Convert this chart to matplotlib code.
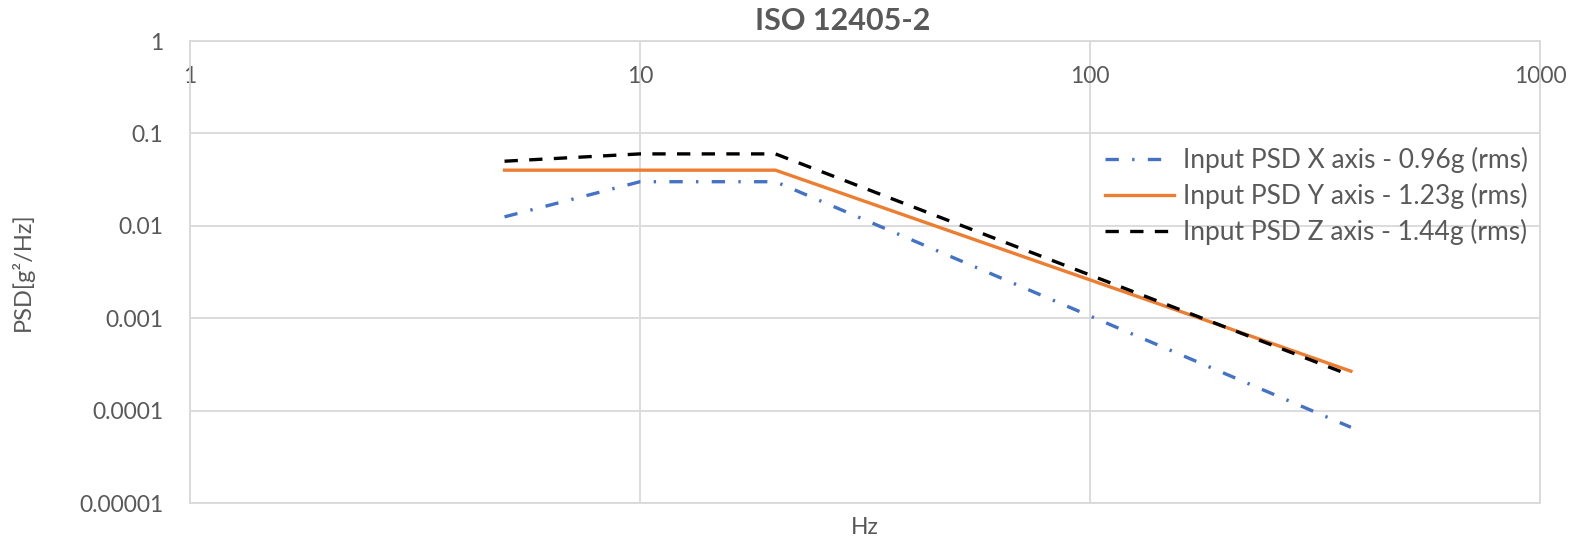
import matplotlib
matplotlib.use("Agg")
import matplotlib.pyplot as plt

plt.rcParams['font.family'] = ['Lato', 'DejaVu Sans']

# Data (frequency in Hz, PSD in g^2/Hz)
freq = [5, 10, 20, 200, 380]
psd_x = [0.0125, 0.03, 0.03, 0.00025, 0.000066]
psd_y = [0.04, 0.04, 0.04, 0.0008, 0.000267]
psd_z = [0.05, 0.06, 0.06, 0.0008, 0.00024]
labels = ["Input PSD X axis - 0.96g (rms)",
          "Input PSD Y axis - 1.23g (rms)",
          "Input PSD Z axis - 1.44g (rms)"]
xticks = [1, 10, 100, 1000]
xticklabels = ["1", "10", "100", "1000"]
yticks = [1, 0.1, 0.01, 0.001, 0.0001, 0.00001]
yticklabels = ["1", "0.1", "0.01", "0.001", "0.0001", "0.00001"]

W, H = 1594, 542
fig = plt.figure(figsize=(W / 100, H / 100), dpi=100)
L, R, T, B = 190, 1540, 41, 503
ax = fig.add_axes([L / W, 1 - B / H, (R - L) / W, (B - T) / H])

txt = '#595959'
grid = '#d9d9d9'

ax.plot(freq, psd_x, color='#4472C4', lw=2.4, dashes=(4, 4, 0.7, 4), label=labels[0])
ax.plot(freq, psd_y, color='#ED7D31', lw=2.4, label=labels[1])
ax.plot(freq, psd_z, color='black', lw=2.4, dashes=(4, 3.4), label=labels[2])

ax.set_xscale('log')
ax.set_yscale('log')
ax.set_xlim(1, 1000)
ax.set_ylim(0.00001, 1)
ax.set_xticks(xticks)
ax.set_xticklabels(xticklabels)
ax.set_yticks(yticks)
ax.set_yticklabels(yticklabels)
ax.minorticks_off()
ax.grid(True, color=grid, lw=1.3)
ax.set_axisbelow(True)
for s in ax.spines.values():
    s.set_color(grid)
    s.set_linewidth(1.3)

ax.tick_params(axis='x', which='both', top=False, bottom=False, labeltop=True,
               labelbottom=False, length=0, pad=-33, labelsize=16.5, labelcolor=txt)
ax.tick_params(axis='y', which='both', length=0, pad=19, labelsize=16.5, labelcolor=txt)

ax.set_ylabel("PSD[g²/Hz]", fontsize=17, color=txt)
ax.yaxis.set_label_coords(-0.116, 0.5)

fig.text(843 / W, 1 - 21 / H, "ISO 12405-2", ha='center', va='center',
         fontsize=22, fontweight='bold', color=txt)
fig.text(865 / W, 1 - 528 / H, "Hz", ha='center', va='center', fontsize=16.5, color=txt)

leg = ax.legend(loc='upper left', bbox_to_anchor=(1105 / W, 1 - 147 / H),
                bbox_transform=fig.transFigure, frameon=False, fontsize=19,
                handlelength=2.6, handletextpad=0.35, labelspacing=0.38,
                borderpad=0, borderaxespad=0)
for t in leg.get_texts():
    t.set_color(txt)

fig.savefig("out.png", dpi=100)
